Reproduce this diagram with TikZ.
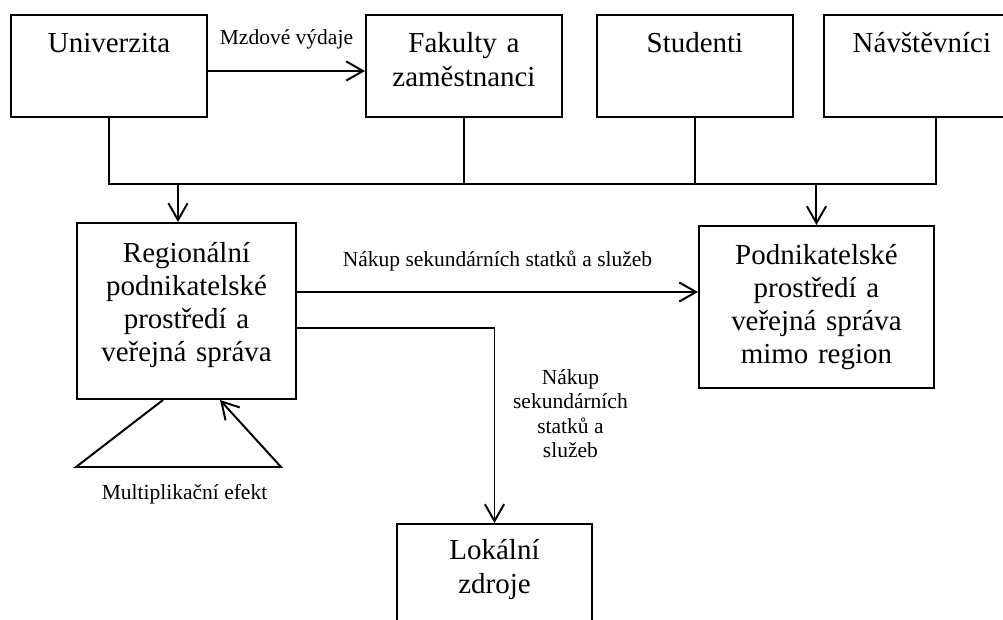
\documentclass[tikz,border=0pt]{standalone}
\usepackage{fontspec}
\setmainfont{Liberation Serif}
\usepackage{tikz}
\usetikzlibrary{arrows.meta,calc,positioning}
\newcommand{\boxfont}{\fontsize{20.6pt}{23.6pt}\selectfont}
\newcommand{\notefont}{\fontsize{15.3pt}{17.4pt}\selectfont}
\tikzset{
  topbox/.style={draw,line width=1.4pt,inner sep=0pt,text width=#1,align=center,
    text height=0.95cm,text depth=1.6cm,font=\boxfont},
  topbox/.default=4.9cm,
  midbox/.style={draw,line width=1.4pt,inner sep=0pt,text width=#1,align=center,font=\boxfont},
  midbox/.default=5.5cm,
  arrow/.style={-{Straight Barb[length=0.42cm,width=0.48cm]},line width=1.4pt},
  bus/.style={line width=1pt},
  note/.style={inner sep=0pt,align=center,font=\notefont}
}

\begin{document}
\begin{tikzpicture}
\path[use as bounding box] (0,0) rectangle (25.075,-15.5);
\clip (0,0) rectangle (25.075,-15.5);
% top row
\node[topbox,anchor=north west] (univ) at (0.25,-0.35) {Univerzita};
\node[topbox,right=3.925cm of univ] (fak) {Fakulty a\\zaměstnanci};
\node[topbox,right=0.825cm of fak] (stud) {Studenti};
\node[topbox,right=0.725cm of stud] (navs) {Návštěvníci};
% middle and bottom
\node[midbox=5.475cm,minimum height=4.4cm,text depth=2.95cm] (reg) at (4.6625,-7.775) {Regionální\\podnikatelské\\prostředí a\\veřejná správa};
\node[midbox=5.875cm,minimum height=4.05cm,right=10.025cm of reg,yshift=0.1cm] (out) {Podnikatelské\\prostředí a\\veřejná správa\\mimo region};
\node[topbox=4.875cm,text height=0.9cm,text depth=3cm,anchor=north] (loc) at (12.3625,-13.075) {Lokální\\zdroje};
% wages
\coordinate (wage) at ([yshift=-0.125cm]univ.east);
\draw[arrow] (wage) -- node[note,above=0.53cm] (wagelabel) {Mzdové výdaje} (wage -| fak.west);
% collecting line
\coordinate (busl) at ($(univ.south)+(0,-1.65)$);
\coordinate (navsdrop) at ([xshift=0.35cm]navs.south);
\coordinate (regin) at ([xshift=-0.2125cm]reg.north);
\draw[bus] (univ.south) -- (busl) -- (busl -| navsdrop) -- (navsdrop);
\draw[bus] (fak.south) -- (fak.south |- busl);
\draw[bus] (stud.south) -- (stud.south |- busl);
\draw[arrow] (regin |- busl) -- (regin);
\draw[arrow] (out.north |- busl) -- (out.north);
% purchases
\coordinate (buy) at ([yshift=0.475cm]reg.east);
\coordinate (sell) at ([yshift=-0.425cm]reg.east);
\draw[arrow] (buy) -- node[note,above=0.5cm] (buylabel) {Nákup sekundárních statků a služeb} (buy -| out.west);
\draw[arrow] (sell) -| node[note,pos=0.72,right=0.44cm] (selllabel) {Nákup\\sekundárních\\statků a\\služeb} (loc.north);
% multiplier
\coordinate (ml) at ($(reg.south west)+(0,-1.675)$);
\coordinate (mr) at ($(ml)+(5.125,0)$);
\draw[arrow] ([xshift=-0.5875cm]reg.south) -- (ml) -- node[note,below=0.4cm,xshift=0.15cm] (multlabel) {Multiplikační efekt} (mr) -- ([xshift=0.8375cm]reg.south);
\end{tikzpicture}
\end{document}
